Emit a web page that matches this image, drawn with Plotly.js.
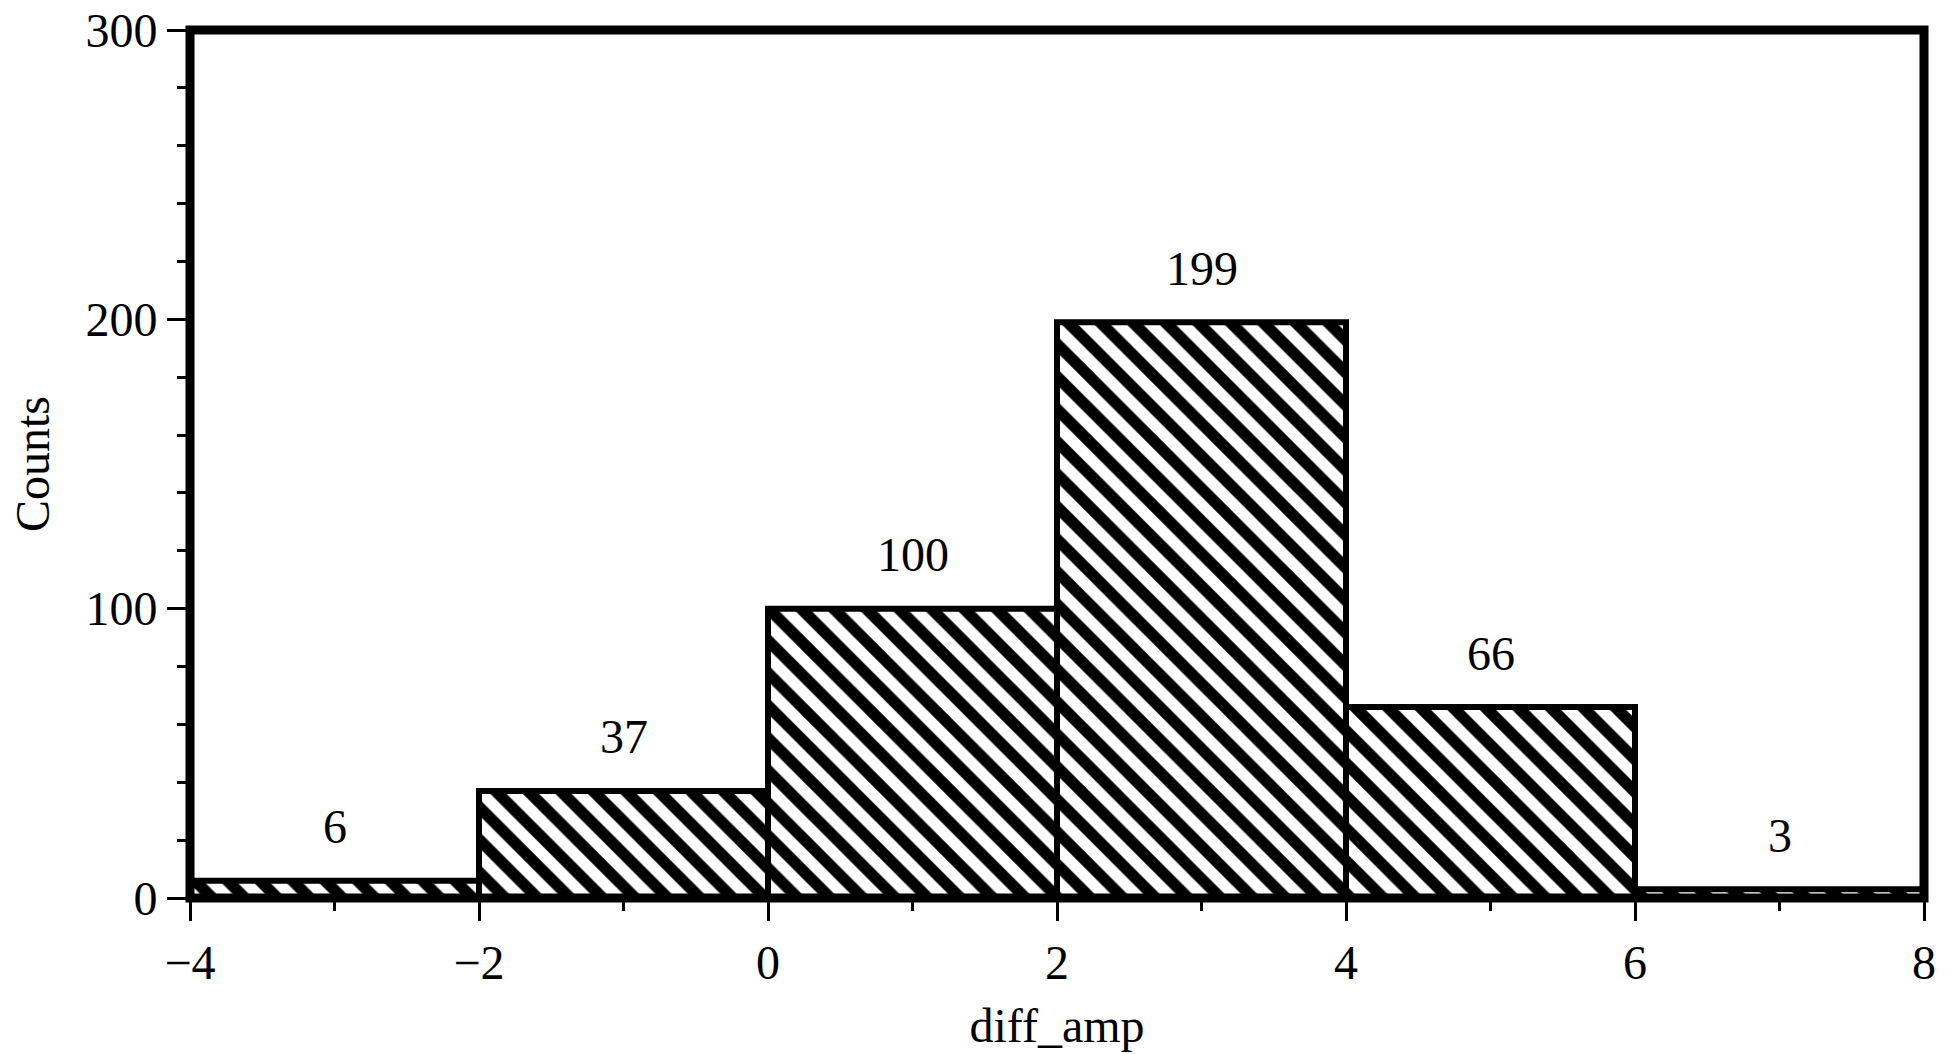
<!DOCTYPE html>
<html>
<head>
<meta charset="utf-8">
<script src="https://cdn.plot.ly/plotly-3.0.1.min.js"></script>
<style>html,body{margin:0;padding:0;background:#fff;}#chart{width:1958px;height:1054px;}</style>
</head>
<body>
<div id="chart"></div>
<script>
// Data
var binEdges = [-4, -2, 0, 2, 4, 6, 8];
var counts = [6, 37, 100, 199, 66, 3];
var xTickVals = [-4, -2, 0, 2, 4, 6, 8];
var yTickVals = [0, 100, 200, 300];
var xTitle = 'diff_amp';
var yTitle = 'Counts';

var centers = [], widths = [];
for (var i = 0; i < counts.length; i++) {
  centers.push((binEdges[i] + binEdges[i + 1]) / 2);
  widths.push(binEdges[i + 1] - binEdges[i]);
}

var FONT = 'Liberation Serif, Times New Roman, serif';

var trace = {
  type: 'bar',
  x: centers,
  y: counts,
  width: widths,
  marker: {
    color: 'white',
    line: {color: 'black', width: 6},
    pattern: {shape: '\\', fgcolor: 'black', bgcolor: 'white', size: 23, solidity: 0.5, fillmode: 'replace'}
  },
  hoverinfo: 'skip',
  showlegend: false
};

var annotations = centers.map(function (c, i) {
  return {
    x: c, y: counts[i], xref: 'x', yref: 'y',
    text: String(counts[i]), showarrow: false,
    yanchor: 'middle', yshift: 54,
    font: {family: FONT, size: 48, color: 'black'}
  };
});

var layout = {
  width: 1958, height: 1054,
  margin: {l: 190, r: 34, t: 30, b: 156},
  paper_bgcolor: 'white', plot_bgcolor: 'white',
  font: {family: FONT, size: 48, color: 'black'},
  bargap: 0,
  xaxis: {
    range: [-4, 8], tickvals: xTickVals,
    ticks: 'outside', ticklen: 22, tickwidth: 3, tickcolor: 'black',
    minor: {dtick: 1, ticks: 'outside', ticklen: 12, tickwidth: 3, tickcolor: 'black'},
    showgrid: false, zeroline: false, showline: false,
    tickfont: {family: FONT, size: 48, color: 'black'},
    title: {text: xTitle, font: {family: FONT, size: 48, color: 'black'}, standoff: 20},
    automargin: false, fixedrange: true
  },
  yaxis: {
    range: [0, 300], tickvals: yTickVals,
    ticks: 'outside', ticklen: 22, tickwidth: 3, tickcolor: 'black',
    minor: {dtick: 20, ticks: 'outside', ticklen: 12, tickwidth: 3, tickcolor: 'black'},
    showgrid: false, zeroline: false, showline: false,
    tickfont: {family: FONT, size: 48, color: 'black'},
    title: {text: yTitle, font: {family: FONT, size: 48, color: 'black'}, standoff: 20},
    automargin: false, fixedrange: true
  },
  shapes: [{
    type: 'rect', xref: 'paper', yref: 'paper', x0: 0, x1: 1, y0: 0, y1: 1,
    line: {color: 'black', width: 9}, fillcolor: 'rgba(0,0,0,0)', layer: 'above'
  }],
  annotations: annotations
};

Plotly.newPlot('chart', [trace], layout, {displayModeBar: false, staticPlot: true});
</script>
</body>
</html>
